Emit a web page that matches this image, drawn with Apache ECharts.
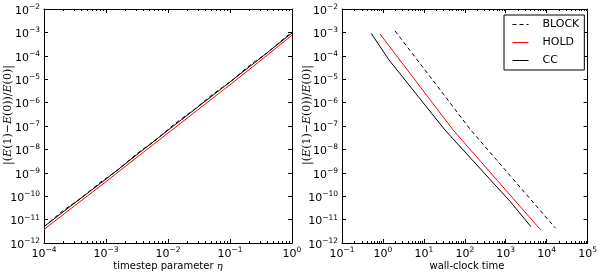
<!DOCTYPE html>
<html><head><meta charset="utf-8">
<script src="https://cdn.jsdelivr.net/npm/echarts@6/dist/echarts.min.js"></script>
<style>html,body{margin:0;padding:0;background:#fff}#c{width:600px;height:273px}</style>
</head><body><div id="c"></div>
<script>
// ---- Left panel: error vs timestep parameter eta ----
const leftEta = [1e-4, 3.16e-4, 1e-3, 3.16e-3, 1e-2, 3.16e-2, 0.1, 0.316, 1];
const leftCC = [5.0e-12, 5.25e-11, 5.4e-10, 6.0e-9, 6.6e-8, 7.1e-7, 7.6e-6, 8.3e-5, 9.5e-4];
const leftHOLD = [3.8e-12, 4.0e-11, 4.2e-10, 4.6e-9, 5.0e-8, 5.4e-7, 5.75e-6, 6.5e-5, 7.6e-4];
const leftBlockEta = [1e-4, 2e-4, 4e-4, 8e-4, 1.6e-3, 3.2e-3, 6.4e-3, 1.28e-2, 2.56e-2, 5.12e-2, 0.1024, 0.2048, 0.4096, 0.8192, 1];
const leftBLOCK = [5.0e-12, 2.34e-11, 8.5e-11, 3.8e-10, 1.4e-9, 6.8e-9, 2.6e-8, 1.23e-7, 4.7e-7, 2.14e-6, 7.9e-6, 3.8e-5, 1.4e-4, 6.9e-4, 9.7e-4];

// ---- Right panel: error vs wall-clock time ----
const rightTimeCC = [0.516, 1.41, 32.6, 398, 1290, 4120];
const rightCC = [9.1e-4, 6.6e-5, 6.8e-8, 5.6e-10, 5.9e-11, 5.0e-12];
const rightTimeHOLD = [0.85, 6.3, 51.5, 631, 7160];
const rightHOLD = [8.5e-4, 8.5e-6, 6.8e-8, 4.6e-10, 3.6e-12];
const rightTimeBLOCK = [1.98, 15.8, 139, 1585, 16400];
const rightBLOCK = [1.15e-3, 1.0e-5, 6.8e-8, 4.9e-10, 4.3e-12];

// ---- Axis ranges / labels ----
const leftXRange = [1e-4, 1];
const rightXRange = [1e-1, 1e5];
const yRange = [1e-12, 1e-2];
const legendNames = ['BLOCK', 'HOLD', 'CC'];
const leftXTitle = 'timestep parameter ';
const rightXTitle = 'wall-clock time';

function zip(a, b) { return a.map((v, i) => [v, b[i]]); }
function minorTicks(lo, hi) {
  const out = [];
  for (let e = Math.round(Math.log10(lo)); e < Math.round(Math.log10(hi)); e++) {
    for (let k = 2; k <= 9; k++) out.push([k * Math.pow(10, e), 1e-7]);
  }
  return out;
}
const FONT = 'DejaVu Sans';
const labelRich = {
  b: { fontSize: 11, fontFamily: FONT, color: '#000', padding: [4, 0, 0, 0], lineHeight: 12 },
  s: { fontSize: 7.5, fontFamily: FONT, color: '#000', verticalAlign: 'top', lineHeight: 9 }
};
function fmt(v) {
  const e = Math.round(Math.log10(v));
  return '{b|10}{s|' + (e < 0 ? '\u2212' : '') + Math.abs(e) + '}';
}
function xAxisCfg(grid, range, pos) {
  return {
    type: 'log', logBase: 10, gridIndex: grid, min: range[0], max: range[1], interval: 1,
    position: pos,
    axisLine: { show: true, onZero: false, lineStyle: { color: '#000', width: 1 } },
    axisTick: { show: true, inside: true, length: 4, lineStyle: { color: '#000', width: 1 } },
    axisLabel: { show: pos === 'bottom', formatter: fmt, rich: labelRich, margin: 3, interval: 0, showMinLabel: true, showMaxLabel: true },
    splitLine: { show: false }, minorTick: { show: false }
  };
}
function yAxisCfg(grid, pos) {
  return {
    type: 'log', logBase: 10, gridIndex: grid, min: yRange[0], max: yRange[1], interval: 1,
    position: pos,
    axisLine: { show: true, onZero: false, lineStyle: { color: '#000', width: 1 } },
    axisTick: { show: true, inside: true, length: 4, lineStyle: { color: '#000', width: 1 } },
    axisLabel: { show: pos === 'left', formatter: fmt, rich: labelRich, margin: 4, interval: 0, showMinLabel: true, showMaxLabel: true },
    splitLine: { show: false }
  };
}
function minorTickItem(params, api) {
  const p = api.coord([api.value(0), 1e-7]);
  const cs = params.coordSys;
  const x = Math.round(p[0]) + 0.5;
  const L = 2;
  return { type: 'group', children: [
    { type: 'line', shape: { x1: x, y1: cs.y + cs.height, x2: x, y2: cs.y + cs.height - L }, style: { stroke: '#000', lineWidth: 1 } },
    { type: 'line', shape: { x1: x, y1: cs.y, x2: x, y2: cs.y + L }, style: { stroke: '#000', lineWidth: 1 } }
  ]};
}
function lineSeries(name, data, xi, yi, color, dashed) {
  return {
    name: name, type: 'line', data: data, xAxisIndex: xi, yAxisIndex: yi,
    symbol: 'none', smooth: false, silent: true,
    lineStyle: { color: color, width: 1, type: dashed ? [4, 3] : 'solid' },
    itemStyle: { color: color }
  };
}
const yTitleRich = {
  i: { fontStyle: 'italic', fontFamily: 'DejaVu Serif', fontSize: 11, color: '#000' },
  n: { fontFamily: 'DejaVu Serif', fontSize: 11, color: '#000' }
};
const yTitle = '{n|\u007c(}{i|E}{n|(1)\u2212}{i|E}{n|(0))/}{i|E}{n|(0)\u007c}';

const chart = echarts.init(document.getElementById('c'), null, { renderer: 'canvas' });
chart.setOption({
  animation: false,
  backgroundColor: '#fff',
  grid: [
    { left: 44, top: 9, width: 248, height: 234, containLabel: false },
    { left: 342, top: 9, width: 250, height: 234, containLabel: false }
  ],
  xAxis: [
    xAxisCfg(0, leftXRange, 'bottom'),
    xAxisCfg(0, leftXRange, 'top'),
    xAxisCfg(1, rightXRange, 'bottom'),
    xAxisCfg(1, rightXRange, 'top')
  ],
  yAxis: [
    yAxisCfg(0, 'left'),
    yAxisCfg(0, 'right'),
    yAxisCfg(1, 'left'),
    yAxisCfg(1, 'right')
  ],
  legend: {
    data: legendNames, orient: 'vertical', left: 504, top: 15,
    backgroundColor: '#fff', borderColor: '#000', borderWidth: 1, borderRadius: 0,
    padding: [4, 5, 4, 8], itemGap: 7, itemWidth: 16, itemHeight: 10,
    itemStyle: { opacity: 0, color: 'transparent', borderWidth: 0 },
    lineStyle: { width: 1 },
    textStyle: { fontSize: 11, fontFamily: FONT, color: '#000', padding: [0, 0, 0, 9] },
    selectedMode: false
  },
  graphic: [
    { type: 'text', x: 8, y: 115, rotation: Math.PI / 2, style: { text: yTitle, rich: yTitleRich, align: 'center', verticalAlign: 'middle' } },
    { type: 'text', x: 307, y: 115, rotation: Math.PI / 2, style: { text: yTitle, rich: yTitleRich, align: 'center', verticalAlign: 'middle' } },
    { type: 'text', x: 168, y: 266, style: { text: '{t|' + leftXTitle + '}{e|\u03b7}', align: 'center', verticalAlign: 'middle',
        rich: { t: { fontSize: 10, fontFamily: FONT, color: '#000' }, e: { fontSize: 10, fontFamily: 'DejaVu Serif', fontStyle: 'italic', color: '#000' } } } },
    { type: 'text', x: 467, y: 266, style: { text: rightXTitle, align: 'center', verticalAlign: 'middle', fontSize: 10, fontFamily: FONT, fill: '#000' } }
  ],
  series: [
    { type: 'custom', name: 'minorL', xAxisIndex: 0, yAxisIndex: 0, renderItem: minorTickItem, data: minorTicks(leftXRange[0], leftXRange[1]), silent: true, clip: false },
    { type: 'custom', name: 'minorR', xAxisIndex: 2, yAxisIndex: 2, renderItem: minorTickItem, data: minorTicks(rightXRange[0], rightXRange[1]), silent: true, clip: false },
    lineSeries('HOLD', zip(leftEta, leftHOLD), 0, 0, '#ff0000', false),
    lineSeries('CC', zip(leftEta, leftCC), 0, 0, '#000000', false),
    lineSeries('BLOCK', zip(leftBlockEta, leftBLOCK), 0, 0, '#000000', true),
    lineSeries('HOLD', zip(rightTimeHOLD, rightHOLD), 2, 2, '#ff0000', false),
    lineSeries('CC', zip(rightTimeCC, rightCC), 2, 2, '#000000', false),
    lineSeries('BLOCK', zip(rightTimeBLOCK, rightBLOCK), 2, 2, '#000000', true)
  ]
});
</script>
</body></html>
